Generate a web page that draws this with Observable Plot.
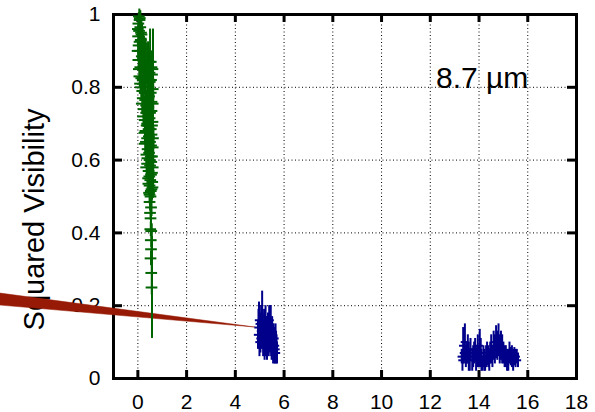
<!DOCTYPE html>
<html>
<head>
<meta charset="utf-8">
<script src="https://cdn.jsdelivr.net/npm/d3@7"></script>
<script src="https://cdn.jsdelivr.net/npm/@observablehq/plot@0.6"></script>
<style>
  html, body { margin: 0; padding: 0; background: #fff; }
  #chart svg { display: block; }
</style>
</head>
<body>
<div id="chart"></div>
<script>
// Squared visibility vs. spatial frequency, 8.7 µm band.

// Short-baseline measurements (spatial frequency, V², 1σ error)
const shortX = [0.06,0.09,0.04,0.12,0.07,0.17,0.03,0.14,
  0.22,0.05,0.32,0.10,0.42,0.18,0.04,0.55,0.28,0.12,0.47,0.36,0.60,0.08,0.22,0.51,0.62,0.50,
  0.40,0.14,0.63,0.30,0.48,0.22,0.58,0.36,0.26,0.52,0.44,0.30,0.62,
  0.38,0.55,0.29,0.47,0.64,0.35,0.56,0.42,0.37,0.60,0.50,
  0.40,0.63,0.46,0.56,0.44,0.61,0.50,0.58,0.48,0.54,
  0.50,0.56,0.52,0.54,0.53,0.57,0.55,0.56,0.54,0.58,0.57,
  0.10,0.02,0.15,0.09,0.25,0.01,
  0.38,0.15,0.48,0.25,0.58,0.06,0.33,0.43,0.16,0.56,0.28,0.11,
  0.46,0.20,0.55,0.40,0.32,0.63,0.18,0.45,0.58,0.36,0.23,0.50,0.40,
  0.60,0.46,0.33,0.58,0.40,0.52,0.30,0.63,0.48,0.55,0.41,
  0.57,0.52,0.36,0.60,0.49,0.53,0.45,0.62,0.55,0.50];
const shortV2 = [0.995,0.985,0.975,0.965,0.955,0.945,0.94,0.93,
  0.92,0.915,0.905,0.90,0.895,0.885,0.875,0.87,0.865,0.855,0.85,0.84,0.835,0.83,0.82,0.815,0.85,0.84,
  0.805,0.80,0.795,0.785,0.775,0.77,0.76,0.75,0.74,0.73,0.72,0.71,0.705,
  0.695,0.685,0.675,0.665,0.66,0.65,0.64,0.63,0.615,0.61,0.60,
  0.59,0.58,0.57,0.56,0.55,0.54,0.53,0.52,0.51,0.50,
  0.485,0.47,0.455,0.44,0.41,0.405,0.38,0.355,0.33,0.25,0.29,
  0.99,0.96,0.95,0.925,0.91,0.90,
  0.89,0.875,0.87,0.86,0.855,0.85,0.845,0.83,0.825,0.82,0.81,0.81,
  0.80,0.79,0.785,0.77,0.765,0.755,0.755,0.745,0.735,0.73,0.72,0.715,0.70,
  0.695,0.685,0.68,0.67,0.66,0.65,0.645,0.635,0.62,0.61,0.605,
  0.595,0.585,0.58,0.565,0.555,0.545,0.535,0.525,0.515,0.505];
const shortErr = [0.02,0.025,0.03,0.03,0.03,0.03,0.03,0.035,
  0.03,0.03,0.03,0.035,0.03,0.03,0.03,0.03,0.035,0.03,0.03,0.03,0.03,0.03,0.035,0.03,0.11,0.12,
  0.03,0.03,0.03,0.035,0.03,0.03,0.03,0.035,0.03,0.03,0.03,0.03,0.03,
  0.035,0.03,0.03,0.03,0.03,0.035,0.03,0.03,0.03,0.03,0.035,
  0.03,0.03,0.03,0.035,0.03,0.03,0.03,0.03,0.03,0.03,
  0.025,0.025,0.02,0.025,0.02,0.02,0.02,0.02,0.02,0.14,0.06,
  0.02,0.03,0.03,0.03,0.03,0.03,
  0.03,0.03,0.03,0.03,0.03,0.03,0.03,0.03,0.03,0.03,0.03,0.03,
  0.03,0.03,0.03,0.03,0.03,0.03,0.03,0.03,0.03,0.03,0.03,0.03,0.03,
  0.03,0.03,0.03,0.03,0.03,0.03,0.03,0.03,0.03,0.03,0.03,
  0.03,0.03,0.03,0.03,0.03,0.03,0.03,0.03,0.03,0.03];

// Intermediate baselines
const midX = [4.93,4.97,5.00,5.03,5.07,5.10,5.14,5.18,5.22,5.26,5.30,5.34,5.39,5.43,5.47,5.51,5.55,5.59,5.63,5.67,5.71,
  4.95,4.99,5.05,5.12,5.16,5.20,5.24,5.28,5.32,5.37,5.41,5.45,5.49,5.53,5.57,5.61,5.65,5.69];
const midV2 = [0.12,0.16,0.15,0.11,0.15,0.17,0.10,0.14,0.11,0.13,0.09,0.13,0.15,0.14,0.11,0.12,0.08,0.10,0.07,0.09,0.07,
  0.14,0.10,0.13,0.13,0.12,0.09,0.15,0.11,0.12,0.10,0.12,0.16,0.09,0.11,0.10,0.08,0.11,0.08];
const midErr = [0.04,0.05,0.05,0.04,0.05,0.07,0.04,0.05,0.05,0.04,0.04,0.05,0.05,0.06,0.05,0.05,0.04,0.04,0.03,0.04,0.03,
  0.05,0.04,0.05,0.05,0.04,0.04,0.05,0.04,0.05,0.04,0.05,0.04,0.04,0.04,0.05,0.04,0.04,0.04];

// Long baselines
const longX = [13.29,13.35,13.42,13.50,13.58,13.65,13.72,13.80,13.88,13.95,14.03,14.10,14.18,14.25,
  14.33,14.42,14.50,14.60,14.70,14.80,14.90,15.00,15.10,15.20,15.30,15.40,15.50,15.60,
  13.32,13.38,13.46,13.54,13.62,13.76,13.84,13.92,14.00,14.07,14.14,14.22,14.29,
  14.38,14.46,14.55,14.65,14.75,14.85,14.95,15.05,15.15,15.25,15.35,15.45,15.55];
const longV2 = [0.06,0.09,0.10,0.07,0.06,0.08,0.05,0.07,0.05,0.08,0.09,0.05,0.06,0.04,
  0.07,0.05,0.08,0.09,0.10,0.105,0.09,0.07,0.06,0.05,0.06,0.05,0.055,0.05,
  0.05,0.07,0.06,0.08,0.05,0.06,0.08,0.06,0.06,0.07,0.04,0.05,0.06,
  0.06,0.07,0.06,0.08,0.09,0.08,0.08,0.06,0.05,0.07,0.06,0.06,0.06];
const longErr = [0.02,0.05,0.05,0.03,0.04,0.03,0.03,0.03,0.03,0.04,0.045,0.03,0.03,0.02,
  0.03,0.03,0.04,0.04,0.045,0.045,0.04,0.03,0.03,0.03,0.025,0.03,0.025,0.02,
  0.03,0.03,0.03,0.04,0.03,0.03,0.03,0.03,0.03,0.04,0.02,0.03,0.03,
  0.03,0.03,0.03,0.04,0.04,0.04,0.04,0.03,0.03,0.03,0.03,0.025,0.02];

// Model band (lower / upper V² at the two ends)
const modelX = [-5.66, 4.82];
const modelLow = [0.2005, 0.140];
const modelHigh = [0.2335, 0.140];

// Axes
const xTicks = [0, 2, 4, 6, 8, 10, 12, 14, 16, 18];
const xTickLabels = ["0", "2", "4", "6", "8", "10", "12", "14", "16", "18"];
const yTicks = [0, 0.2, 0.4, 0.6, 0.8, 1];
const yTickLabels = ["0", "0.2", "0.4", "0.6", "0.8", "1"];
const yTitle = ["Squared Visibility"];
const bandLabel = ["8.7 µm"];

const rows = (xs, ys, es) => xs.map((x, i) => ({x, y: ys[i], e: es[i]}));
const shortPts = rows(shortX, shortV2, shortErr);
const midPts = rows(midX, midV2, midErr);
const longPts = rows(longX, longV2, longErr);
const model = modelX.map((x, i) => ({x, lo: modelLow[i], hi: modelHigh[i]}));

const font = "Liberation Sans, Arial, Helvetica, sans-serif";
const xMin = -1, xMax = 18;
const tickY = 0.022, tickX = 0.37;

function errorBars(data, color, halfWidth) {
  return [
    Plot.ruleX(data, {x: "x", y1: d => d.y - d.e, y2: d => d.y + d.e, stroke: color, strokeWidth: 2}),
    Plot.ruleY(data, {y: "y", x1: d => d.x - halfWidth, x2: d => d.x + halfWidth, stroke: color, strokeWidth: 2})
  ];
}

const chart = Plot.plot({
  width: 595,
  height: 412,
  marginLeft: 113,
  marginRight: 19,
  marginTop: 14,
  marginBottom: 34,
  style: {background: "white", fontFamily: font, color: "black"},
  x: {domain: [xMin, xMax], axis: null},
  y: {domain: [0, 1], axis: null},
  marks: [
    // dotted grid
    Plot.ruleX(xTicks.filter(t => t < xMax), {x: d => d, stroke: "black", strokeWidth: 1, strokeDasharray: "1,2.5"}),
    Plot.ruleY(yTicks.filter(t => t > 0 && t < 1), {y: d => d, stroke: "black", strokeWidth: 1, strokeDasharray: "1,2.5"}),
    // tick marks, mirrored on all sides
    Plot.ruleX(xTicks, {x: d => d, y1: 0, y2: tickY, stroke: "black", strokeWidth: 3}),
    Plot.ruleX(xTicks, {x: d => d, y1: 1 - tickY, y2: 1, stroke: "black", strokeWidth: 3}),
    Plot.ruleY(yTicks, {y: d => d, x1: xMin, x2: xMin + tickX, stroke: "black", strokeWidth: 3}),
    Plot.ruleY(yTicks, {y: d => d, x1: xMax - tickX, x2: xMax, stroke: "black", strokeWidth: 3}),
    Plot.frame({stroke: "black", strokeWidth: 3}),
    // tick labels
    Plot.text(xTicks, {x: d => d, y: 0, text: (d, i) => xTickLabels[i], dy: 30, lineAnchor: "bottom", fontSize: 21, fill: "black"}),
    Plot.text(yTicks, {x: xMin, y: d => d, text: (d, i) => yTickLabels[i], dx: -13, textAnchor: "end", lineAnchor: "middle", fontSize: 21, fill: "black"}),
    // axis title
    Plot.text(yTitle, {frameAnchor: "left", text: d => d, dx: -70, dy: 23, rotate: -90, textAnchor: "middle", lineAnchor: "bottom", fontSize: 29, fill: "black"}),
    // band annotation
    Plot.text(bandLabel, {x: 14.13, y: 0.797, text: d => d, lineAnchor: "bottom", fontSize: 30, fill: "black"}),
    // model band
    Plot.areaY(model, {x: "x", y1: "lo", y2: "hi", fill: "#961a05", stroke: "#961a05", strokeWidth: 0.5}),
    // measurements
    ...errorBars(shortPts, "#006400", 0.24),
    ...errorBars(midPts, "#00008b", 0.15),
    ...errorBars(longPts, "#00008b", 0.15)
  ]
});

document.getElementById("chart").appendChild(chart);
</script>
</body>
</html>
